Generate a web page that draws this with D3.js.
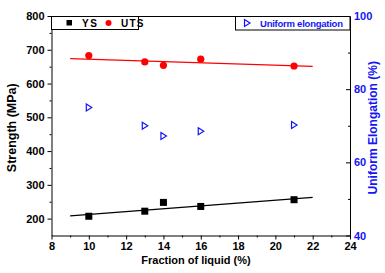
<!DOCTYPE html>
<html>
<head>
<meta charset="utf-8">
<script src="https://cdn.jsdelivr.net/npm/d3@7"></script>
<style>
  body { margin: 0; background: #fff; }
  svg { display: block; font-family: "Liberation Sans", Arial, sans-serif; }
  .tick text { font-weight: bold; font-size: 11px; }
</style>
</head>
<body>
<div id="chart"></div>
<script>
// fraction of liquid (%)
const fraction = [10, 13, 14, 16, 21];
// strength (MPa)
const ys  = [207, 222, 248, 236, 256];
const uts = [683, 664, 654, 672, 652];
// uniform elongation (%)
const elong = [75.0, 70.0, 67.2, 68.5, 70.2];
// linear fit lines, read at both ends
const fitRange = [9, 22];
const fitYs  = [208, 263];
const fitUts = [674, 651];

const xTicks = [8, 10, 12, 14, 16, 18, 20, 22, 24];
const yTicks = [200, 300, 400, 500, 600, 700, 800];
const y2Ticks = [40, 60, 80, 100];

const W = 385, H = 273;
const margin = {top: 16, right: 35, bottom: 37.5, left: 51.5};

const svg = d3.select("#chart").append("svg")
  .attr("width", W).attr("height", H);

const x = d3.scaleLinear().domain([8, 24]).range([margin.left, W - margin.right]);
const y = d3.scaleLinear().domain([150, 800]).range([H - margin.bottom, margin.top]);
const y2 = d3.scaleLinear().domain([40, 100]).range([H - margin.bottom, margin.top]);

const blue = "#1515f5";

// ==== axes ====
const bottom = H - margin.bottom;
svg.append("g").attr("transform", `translate(0,${bottom})`)
  .call(d3.axisBottom(x).tickValues(d3.range(9, 24, 2)).tickSize(2).tickFormat(""))
  .call(g => g.select(".domain").remove());
svg.append("g").attr("transform", `translate(0,${bottom})`)
  .call(d3.axisBottom(x).tickValues(xTicks).tickSize(4).tickPadding(3).tickSizeOuter(0))
  .call(g => g.selectAll("text").attr("fill", "#000"));

svg.append("g").attr("transform", `translate(${margin.left},0)`)
  .call(d3.axisLeft(y).tickValues(d3.range(250, 800, 100)).tickSize(2).tickFormat(""))
  .call(g => g.select(".domain").remove());
svg.append("g").attr("transform", `translate(${margin.left},0)`)
  .call(d3.axisLeft(y).tickValues(yTicks).tickSize(4).tickPadding(3).tickSizeOuter(0))
  .call(g => g.selectAll("text").attr("fill", "#000"));

const right = W - margin.right;
svg.append("g").attr("transform", `translate(${right},0)`)
  .call(d3.axisRight(y2).tickValues([50, 70, 90]).tickSize(-2).tickFormat(""))
  .call(g => g.select(".domain").remove());
svg.append("g").attr("transform", `translate(${right},0)`)
  .call(d3.axisRight(y2).tickValues(y2Ticks).tickSize(-4).tickPadding(4).tickSizeOuter(0))
  .call(g => g.selectAll("text").attr("fill", blue));

// top frame
svg.append("line")
  .attr("x1", margin.left).attr("x2", right)
  .attr("y1", margin.top + 0.5).attr("y2", margin.top + 0.5)
  .attr("stroke", "#000");

// axis titles
svg.append("text")
  .attr("transform", `translate(16,${(margin.top + bottom) / 2 + 2}) rotate(-90)`)
  .attr("text-anchor", "middle").attr("font-size", 12.5).attr("font-weight", "bold")
  .text("Strength (MPa)");
svg.append("text")
  .attr("x", 196).attr("y", 264)
  .attr("text-anchor", "middle").attr("font-size", 11).attr("font-weight", "bold")
  .text("Fraction of liquid (%)");
svg.append("text")
  .attr("transform", `translate(377,${(margin.top + bottom) / 2 + 2}) rotate(-90)`)
  .attr("text-anchor", "middle").attr("font-size", 12).attr("font-weight", "bold")
  .attr("fill", blue)
  .text("Uniform Elongation (%)");

// ==== fit lines ====
svg.append("line")
  .attr("x1", x(fitRange[0])).attr("x2", x(fitRange[1]))
  .attr("y1", y(fitYs[0])).attr("y2", y(fitYs[1]))
  .attr("stroke", "#000").attr("stroke-width", 1.2);
svg.append("line")
  .attr("x1", x(fitRange[0])).attr("x2", x(fitRange[1]))
  .attr("y1", y(fitUts[0])).attr("y2", y(fitUts[1]))
  .attr("stroke", "#ff0000").attr("stroke-width", 1.2);

// ==== markers ====
const tri = "M-2.5,-3.5L3,0L-2.5,3.5Z";
svg.append("g").selectAll("rect").data(fraction).join("rect")
  .attr("x", d => x(d) - 3.5).attr("y", (d, i) => y(ys[i]) - 3.5)
  .attr("width", 7).attr("height", 7).attr("fill", "#000");
svg.append("g").selectAll("circle").data(fraction).join("circle")
  .attr("cx", d => x(d)).attr("cy", (d, i) => y(uts[i]))
  .attr("r", 3.6).attr("fill", "#ff0000");
svg.append("g").selectAll("path").data(fraction).join("path")
  .attr("transform", (d, i) => `translate(${x(d)},${y2(elong[i])})`)
  .attr("d", tri).attr("fill", "none").attr("stroke", blue).attr("stroke-width", 1.2);

// ==== legends ====
const leg1 = svg.append("g");
leg1.append("rect").attr("x", 51.5).attr("y", 16.5).attr("width", 87).attr("height", 13)
  .attr("fill", "#fff").attr("stroke", "#000");
leg1.append("rect").attr("x", 66.5).attr("y", 20).attr("width", 5.5).attr("height", 5.5).attr("fill", "#000");
leg1.append("text").attr("x", 82).attr("y", 27).attr("font-size", 10).attr("font-weight", "bold")
  .attr("letter-spacing", 1.5).text("YS");
leg1.append("circle").attr("cx", 108.5).attr("cy", 23).attr("r", 3).attr("fill", "#ff0000");
leg1.append("text").attr("x", 121).attr("y", 27).attr("font-size", 10).attr("font-weight", "bold")
  .attr("letter-spacing", 1.2).text("UTS");

const leg2 = svg.append("g");
leg2.append("rect").attr("x", 235.5).attr("y", 16.5).attr("width", right - 235.5).attr("height", 13.5)
  .attr("fill", "#fff").attr("stroke", "#000");
leg2.append("path").attr("transform", "translate(247,23)").attr("d", tri)
  .attr("fill", "none").attr("stroke", blue).attr("stroke-width", 1.2);
leg2.append("text").attr("x", 260).attr("y", 27).attr("font-size", 9.5).attr("font-weight", "bold")
  .attr("fill", blue).attr("textLength", 83).text("Uniform elongation");
</script>
</body>
</html>
